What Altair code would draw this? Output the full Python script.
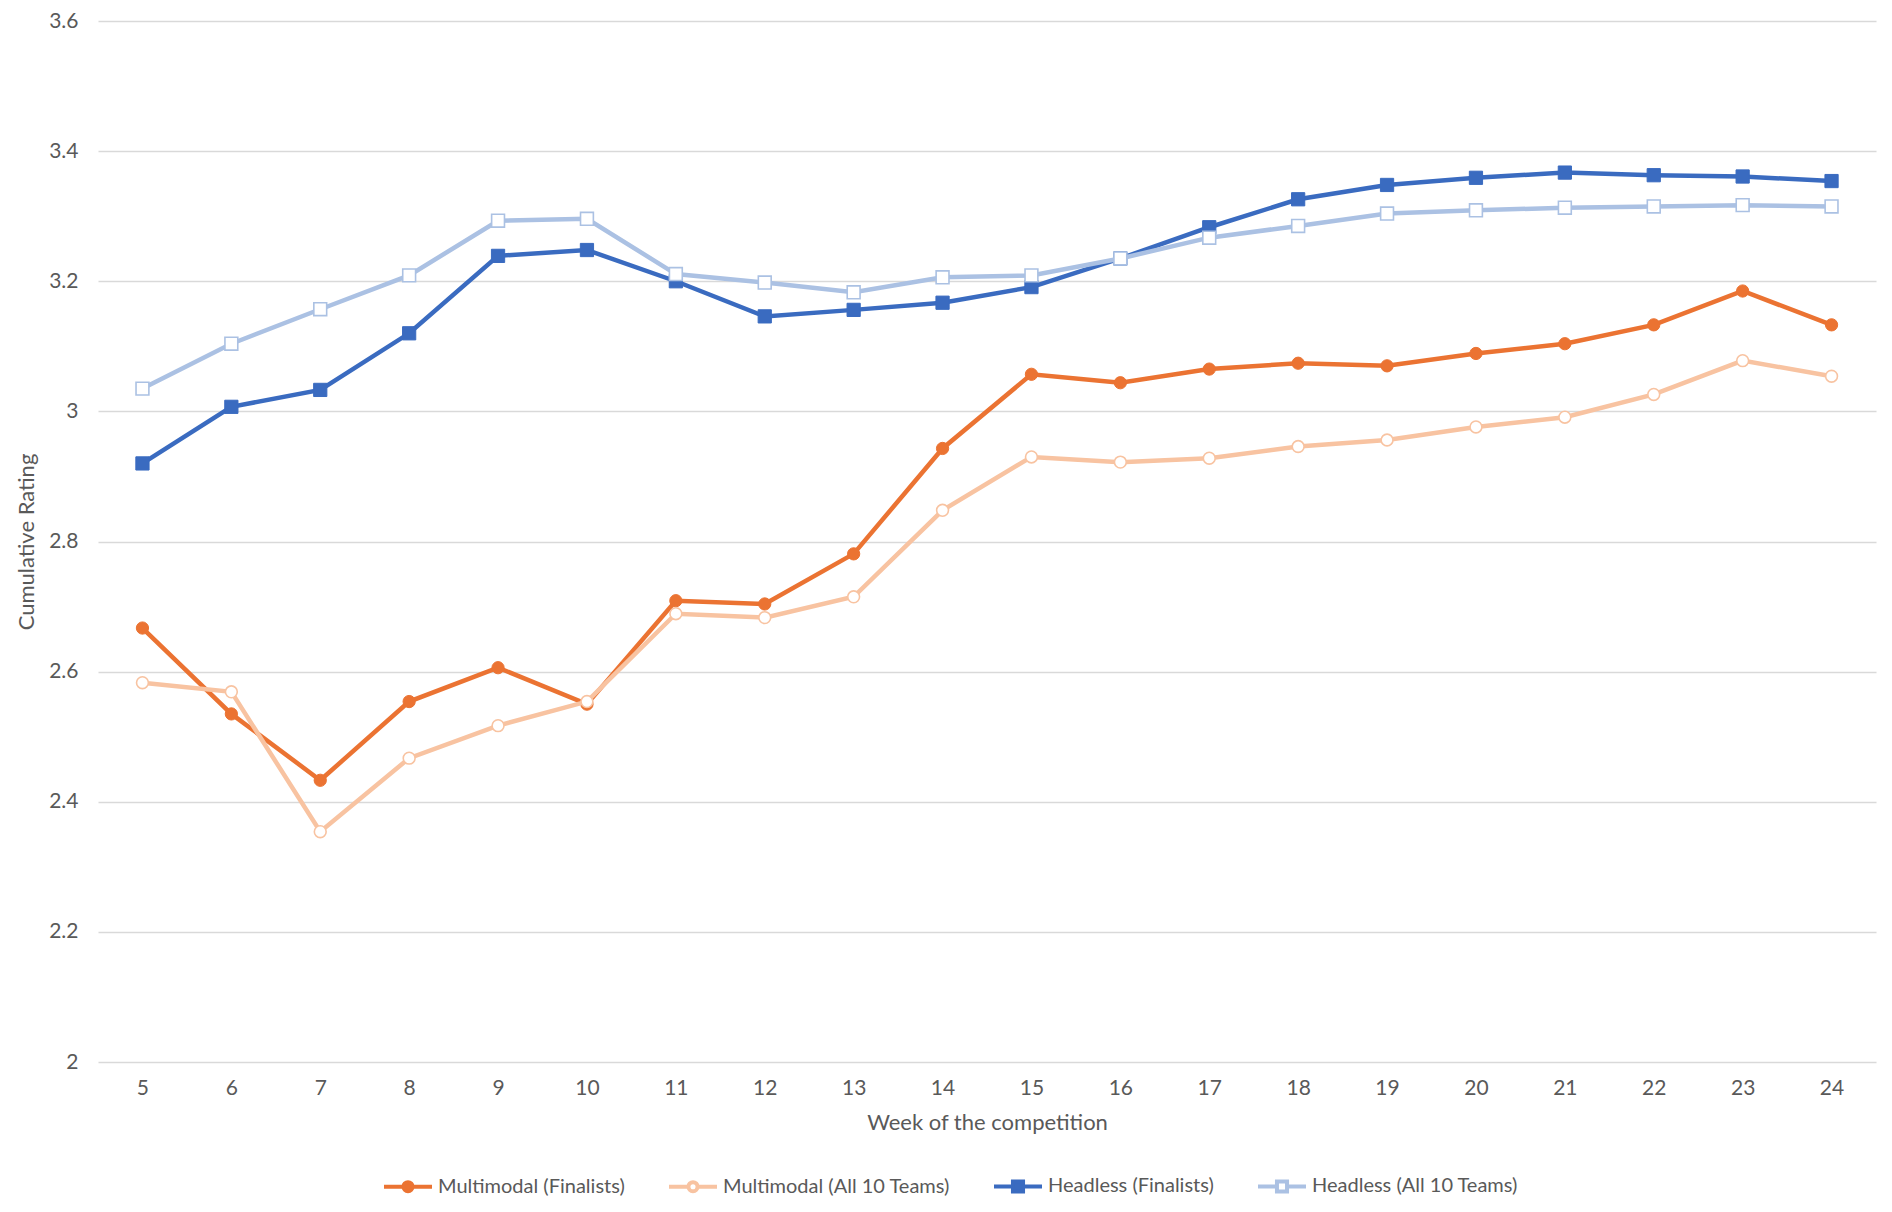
import altair as alt
import pandas as pd

weeks = [5, 6, 7, 8, 9, 10, 11, 12, 13, 14, 15, 16, 17, 18, 19, 20, 21, 22, 23, 24]

series_names = [
    "Multimodal (Finalists)",
    "Multimodal (All 10 Teams)",
    "Headless (Finalists)",
    "Headless (All 10 Teams)",
]

multimodal_finalists = [2.667, 2.535, 2.433, 2.554, 2.606, 2.550, 2.709, 2.704, 2.781, 2.943,
                        3.057, 3.044, 3.065, 3.074, 3.070, 3.089, 3.104, 3.133, 3.185, 3.133]
multimodal_all = [2.583, 2.569, 2.354, 2.467, 2.517, 2.554, 2.689, 2.683, 2.715, 2.848,
                  2.930, 2.922, 2.928, 2.946, 2.956, 2.976, 2.991, 3.026, 3.078, 3.054]
headless_finalists = [2.920, 3.007, 3.033, 3.120, 3.239, 3.248, 3.200, 3.146, 3.156, 3.167,
                      3.191, 3.235, 3.283, 3.326, 3.348, 3.359, 3.367, 3.363, 3.361, 3.354]
headless_all = [3.035, 3.104, 3.157, 3.209, 3.293, 3.296, 3.211, 3.198, 3.183, 3.206,
                3.209, 3.235, 3.267, 3.285, 3.304, 3.309, 3.313, 3.315, 3.317, 3.315]

y_ticks = [2.0, 2.2, 2.4, 2.6, 2.8, 3.0, 3.2, 3.4, 3.6]

stroke_colors = ["#EB7332", "#F8C3A1", "#3A6BC0", "#ABC1E3"]
fill_colors = ["#EB7332", "#FFFFFF", "#3A6BC0", "#FFFFFF"]
marker_shapes = ["circle", "circle", "square", "square"]
marker_sizes = [150, 140, 175, 165]
marker_strokes = [1, 1.6, 1, 1.6]

circle_path = "M-1,0H-0.19M0.19,0H1M0.19,0A0.19,0.19,0,1,1,-0.19,0A0.19,0.19,0,1,1,0.19,0Z"
square_path = "M-1,0H-0.21M0.21,0H1M-0.21,-0.21H0.21V0.21H-0.21Z"
legend_paths = [circle_path, circle_path, square_path, square_path]

all_values = [multimodal_finalists, multimodal_all, headless_finalists, headless_all]
rows = []
for name, vals in zip(series_names, all_values):
    for w, v in zip(weeks, vals):
        rows.append({"series": name, "week": w, "rating": v})
df = pd.DataFrame(rows)

x_enc = alt.X("week:O", title="Week of the competition",
              axis=alt.Axis(labelAngle=0, domain=False, ticks=False, grid=False,
                            labelPadding=15, titlePadding=14))
y_enc = alt.Y("rating:Q", title="Cumulative Rating",
              scale=alt.Scale(domain=[2.0, 3.6], nice=False, zero=False),
              axis=alt.Axis(values=y_ticks, format=".1~f", domain=False, ticks=False,
                            grid=True, gridColor="#D9D9D9", gridWidth=1.5,
                            labelPadding=20, titlePadding=10))

layers = []
for i, name in enumerate(series_names):
    base = alt.Chart(df).transform_filter(alt.datum.series == name)
    line = base.mark_line(color=stroke_colors[i], strokeWidth=4.5).encode(x=x_enc, y=y_enc)
    pts = base.mark_point(shape=marker_shapes[i], size=marker_sizes[i], filled=True,
                          fill=fill_colors[i], stroke=stroke_colors[i],
                          strokeWidth=marker_strokes[i], opacity=1).encode(x=x_enc, y=y_enc)
    layers += [line, pts]

leg = alt.Legend(title=None, orient="none", legendX=284, legendY=1139,
                 direction="horizontal", columns=4, columnPadding=36,
                 symbolSize=2304, symbolStrokeWidth=4, labelOffset=4,
                 labelFont="Lato", labelFontSize=20, labelColor="#595959",
                 labelLimit=400)

legend_layer = alt.Chart(df).transform_filter("false").mark_point(
    filled=True, opacity=1, strokeWidth=4
).encode(
    x=x_enc, y=y_enc,
    stroke=alt.Stroke("series:N", scale=alt.Scale(domain=series_names, range=stroke_colors), legend=leg),
    fill=alt.Fill("series:N", scale=alt.Scale(domain=series_names, range=fill_colors), legend=leg),
    shape=alt.Shape("series:N", scale=alt.Scale(domain=series_names, range=legend_paths), legend=leg),
)
layers.append(legend_layer)

chart = alt.layer(*layers).properties(
    width=1778, height=1041,
    autosize=alt.AutoSizeParams(type="none"),
    padding={"left": 90, "top": 13, "right": 8, "bottom": 140},
).configure_view(stroke=None).configure_axis(
    labelFont="Lato", titleFont="Lato", labelFontSize=21, titleFontSize=22,
    labelColor="#595959", titleColor="#595959", titleFontWeight="normal",
)

chart.save("out.html", embed_options={"renderer": "svg", "actions": False})
